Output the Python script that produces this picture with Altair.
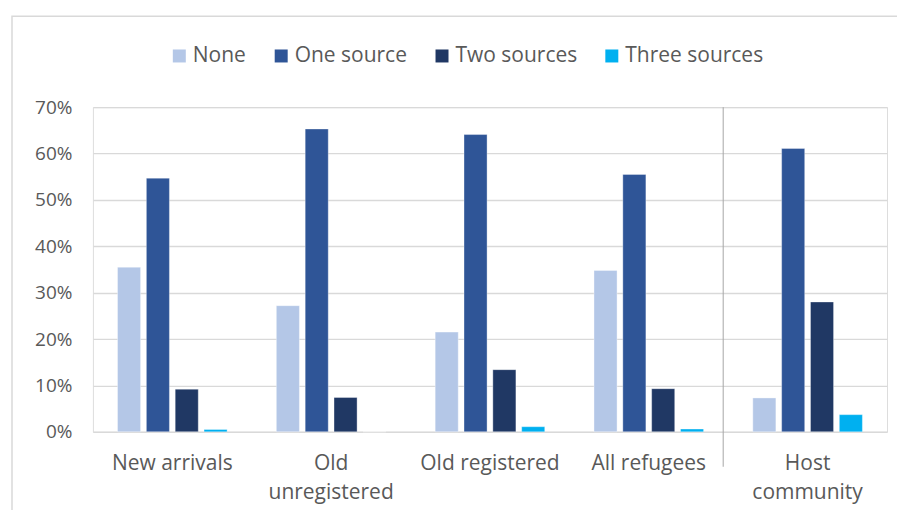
import altair as alt
import pandas as pd

groups = ["New arrivals", "Old\nunregistered", "Old registered", "All refugees", "Host\ncommunity"]
series = ["None", "One source", "Two sources", "Three sources"]
colors = ["#b4c7e7", "#2f5597", "#203864", "#00b0f0"]

none_vals = [0.355, 0.272, 0.215, 0.348, 0.073]
one_vals = [0.547, 0.653, 0.641, 0.555, 0.611]
two_vals = [0.092, 0.074, 0.134, 0.093, 0.280]
three_vals = [0.005, 0.0, 0.011, 0.006, 0.037]

rows = []
for s, vals in zip(series, [none_vals, one_vals, two_vals, three_vals]):
    for g, v in zip(groups, vals):
        rows.append({"group": g, "series": s, "value": v})
df = pd.DataFrame(rows)

W, H = 795, 325
FONT = "Open Sans"
TXT = "#595959"

bars = alt.Chart(df).mark_bar(stroke="#ffffff", strokeWidth=0.6, strokeOpacity=0.6).encode(
    x=alt.X("group:N", sort=groups, title=None,
            scale=alt.Scale(paddingInner=0.31, paddingOuter=0.155),
            axis=alt.Axis(labelAngle=0, domain=False, ticks=False, labelPadding=21,
                          labelFontSize=21, labelColor=TXT, labelFont=FONT,
                          labelLineHeight=29, labelLimit=300,
                          labelExpr="split(datum.label, '\\n')")),
    xOffset=alt.XOffset("series:N", sort=series,
                        scale=alt.Scale(paddingInner=0.2, paddingOuter=0)),
    y=alt.Y("value:Q", title=None,
            scale=alt.Scale(domain=[0, 0.7], nice=False),
            axis=alt.Axis(format=".0%", values=[0, 0.1, 0.2, 0.3, 0.4, 0.5, 0.6, 0.7],
                          domain=False, ticks=False, labelPadding=21,
                          labelFontSize=19, labelColor=TXT, labelFont=FONT,
                          gridColor="#d9d9d9", gridWidth=1.4)),
    color=alt.Color("series:N", sort=series,
                    scale=alt.Scale(domain=series, range=colors),
                    legend=alt.Legend(title=None, orient="none", direction="horizontal",
                                      legendX=76, legendY=-62, padding=0,
                                      symbolType="square", symbolSize=169,
                                      symbolStrokeWidth=0, labelFontSize=21,
                                      labelColor=TXT, labelFont=FONT, labelOffset=3,
                                      columnPadding=24, labelLimit=300)),
)

sep_df = pd.DataFrame({"k": [1]})
separator = alt.Chart(sep_df).mark_rule(color="#a6a6a6", strokeWidth=1).encode(
    x=alt.value(631), y=alt.value(0), y2=alt.value(H + 35)
)

border = alt.Chart(sep_df).mark_rect(fillOpacity=0, stroke="#d9d9d9", strokeWidth=1.5).encode(
    x=alt.value(-81), x2=alt.value(W + 60), y=alt.value(-91), y2=alt.value(H + 120)
)

chart = alt.layer(border, bars, separator).properties(
    width=W, height=H,
    autosize=alt.AutoSizeParams(type="none"),
    padding={"left": 85, "top": 99, "right": 10, "bottom": 78},
).configure_view(stroke=None).configure(font=FONT, background="#ffffff")

chart.save("out.html", embed_options={"renderer": "svg", "actions": False})
